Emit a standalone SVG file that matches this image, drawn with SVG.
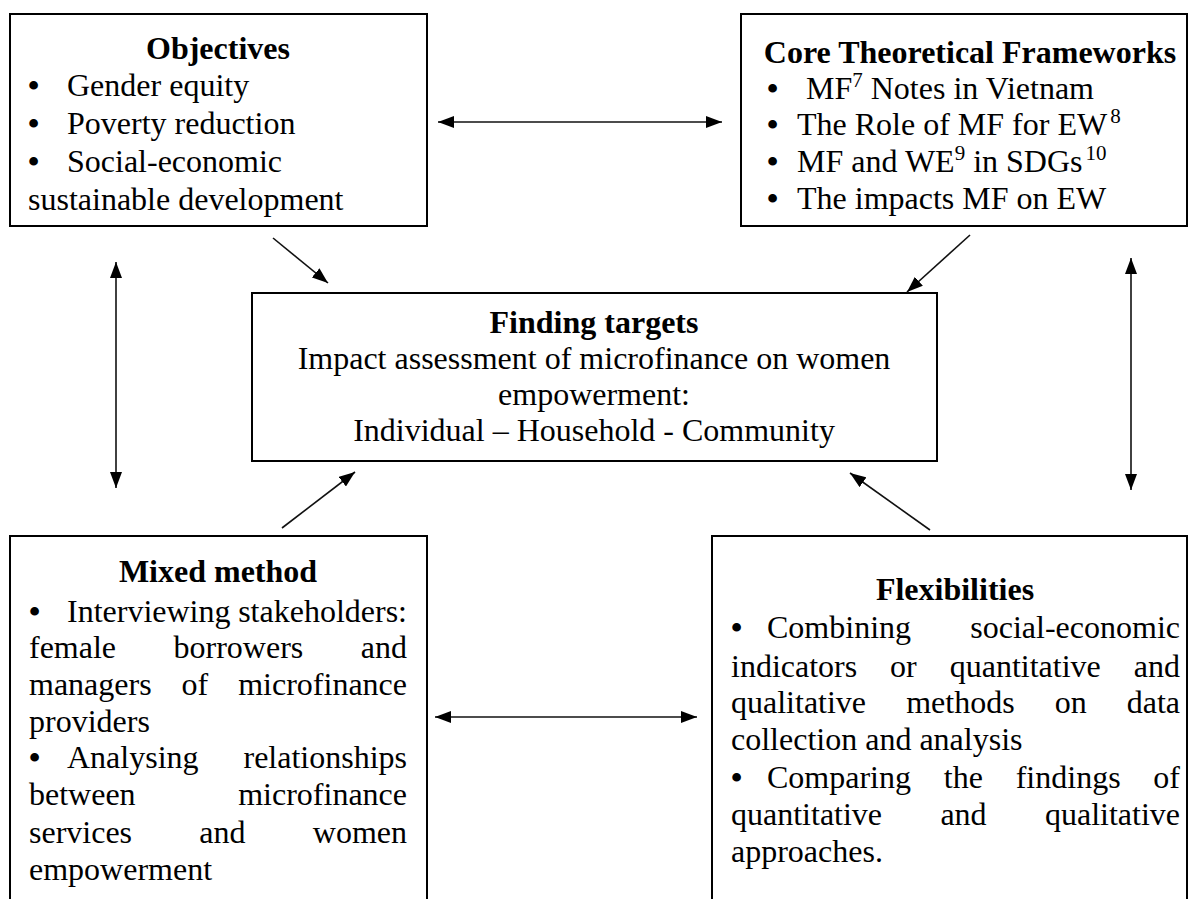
<svg xmlns="http://www.w3.org/2000/svg" width="1189" height="899" viewBox="0 0 1189 899">
<style>
text{font-family:"Liberation Serif","Times New Roman",serif;font-size:32px;fill:#000}
.h{font-weight:bold;text-anchor:middle}
.c{text-anchor:middle}
.e{text-anchor:end}
.b{font-weight:bold}
.box{fill:#fff;stroke:#000;stroke-width:2}
.ln{stroke:#111;stroke-width:1.6;fill:none}
</style>
<defs>
<marker id="ah" viewBox="0 0 16 12" refX="16" refY="6" markerWidth="16" markerHeight="12" markerUnits="userSpaceOnUse" orient="auto-start-reverse">
<path d="M0,0 L16,6 L0,12 z" fill="#000"/>
</marker>
</defs>
<g id="objectives">
<rect class="box" x="10" y="14" width="417" height="212"/>
<text class="h" x="218" y="59">Objectives</text>
<text class="b" x="28" y="96">•</text><text x="67" y="96">Gender equity</text>
<text class="b" x="28" y="134">•</text><text x="67" y="134">Poverty reduction</text>
<text class="b" x="28" y="172">•</text><text x="67" y="172">Social-economic</text>
<text x="28" y="210">sustainable development</text>
</g>
<g id="core">
<rect class="box" x="741" y="14" width="446" height="212"/>
<text class="h" x="970" y="63">Core Theoretical Frameworks</text>
<text class="b" x="767" y="99">•</text><text x="806" y="99">MF<tspan dy="-12" font-size="21">7</tspan><tspan dy="12"> Notes in Vietnam</tspan></text>
<text class="b" x="767" y="135">•</text><text x="797" y="135">The Role of MF for EW<tspan dy="-12" font-size="21" dx="3">8</tspan></text>
<text class="b" x="767" y="172">•</text><text x="797" y="172">MF and WE<tspan dy="-12" font-size="21">9</tspan><tspan dy="12"> in SDGs</tspan><tspan dy="-12" font-size="21" dx="3">10</tspan></text>
<text class="b" x="767" y="209">•</text><text x="797" y="209">The impacts MF on EW</text>
</g>
<g id="finding">
<rect class="box" x="252" y="293" width="685" height="168"/>
<text class="h" x="594" y="333">Finding targets</text>
<text class="c" x="594" y="369">Impact assessment of microfinance on women</text>
<text class="c" x="594" y="405">empowerment:</text>
<text class="c" x="594" y="441">Individual – Household - Community</text>
</g>
<g id="mixed">
<path class="box" d="M10,910 L10,536 L427,536 L427,910"/>
<text class="h" x="218" y="582">Mixed method</text>
<text class="b" x="29" y="622">•</text><text x="67" y="622">Interviewing</text><text class="e" x="407" y="622">stakeholders:</text>
<text x="29" y="658">female</text><text x="173.5" y="658">borrowers</text><text class="e" x="407" y="658">and</text>
<text x="29" y="695">managers</text><text x="181.6" y="695">of</text><text class="e" x="407" y="695">microfinance</text>
<text x="29" y="732">providers</text>
<text class="b" x="29" y="768">•</text><text x="67" y="768">Analysing</text><text class="e" x="407" y="768">relationships</text>
<text x="29" y="805">between</text><text class="e" x="407" y="805">microfinance</text>
<text x="29" y="843">services</text><text x="199.3" y="843">and</text><text class="e" x="407" y="843">women</text>
<text x="29" y="880">empowerment</text>
</g>
<g id="flexibilities">
<path class="box" d="M712,910 L712,536 L1187,536 L1187,910"/>
<text class="h" x="955" y="600">Flexibilities</text>
<text class="b" x="731" y="638">•</text><text x="767" y="638">Combining</text><text class="e" x="1180" y="638">social-economic</text>
<text x="731" y="677">indicators</text><text x="890.1" y="677">or</text><text x="949.7" y="677">quantitative</text><text class="e" x="1180" y="677">and</text>
<text x="731" y="713">qualitative</text><text x="906.2" y="713">methods</text><text x="1054.7" y="713">on</text><text class="e" x="1180" y="713">data</text>
<text x="731" y="750">collection and analysis</text>
<text class="b" x="731" y="788">•</text><text x="767" y="788">Comparing</text><text x="943.8" y="788">the</text><text x="1015.7" y="788">findings</text><text class="e" x="1180" y="788">of</text>
<text x="731" y="825">quantitative</text><text x="940.4" y="825">and</text><text class="e" x="1180" y="825">qualitative</text>
<text x="731" y="862">approaches.</text>
</g>
<g id="connectors">
<line class="ln" x1="438" y1="122" x2="722" y2="122" marker-start="url(#ah)" marker-end="url(#ah)"/>
<line class="ln" x1="435" y1="717" x2="697" y2="717" marker-start="url(#ah)" marker-end="url(#ah)"/>
<line class="ln" x1="116" y1="262" x2="116" y2="488" marker-start="url(#ah)" marker-end="url(#ah)"/>
<line class="ln" x1="1131" y1="258" x2="1131" y2="490" marker-start="url(#ah)" marker-end="url(#ah)"/>
<line class="ln" x1="273" y1="238" x2="328" y2="283" marker-end="url(#ah)"/>
<line class="ln" x1="970" y1="235" x2="907" y2="292" marker-end="url(#ah)"/>
<line class="ln" x1="282" y1="528" x2="355" y2="472" marker-end="url(#ah)"/>
<line class="ln" x1="930" y1="530" x2="850" y2="473" marker-end="url(#ah)"/>
</g>
</svg>
